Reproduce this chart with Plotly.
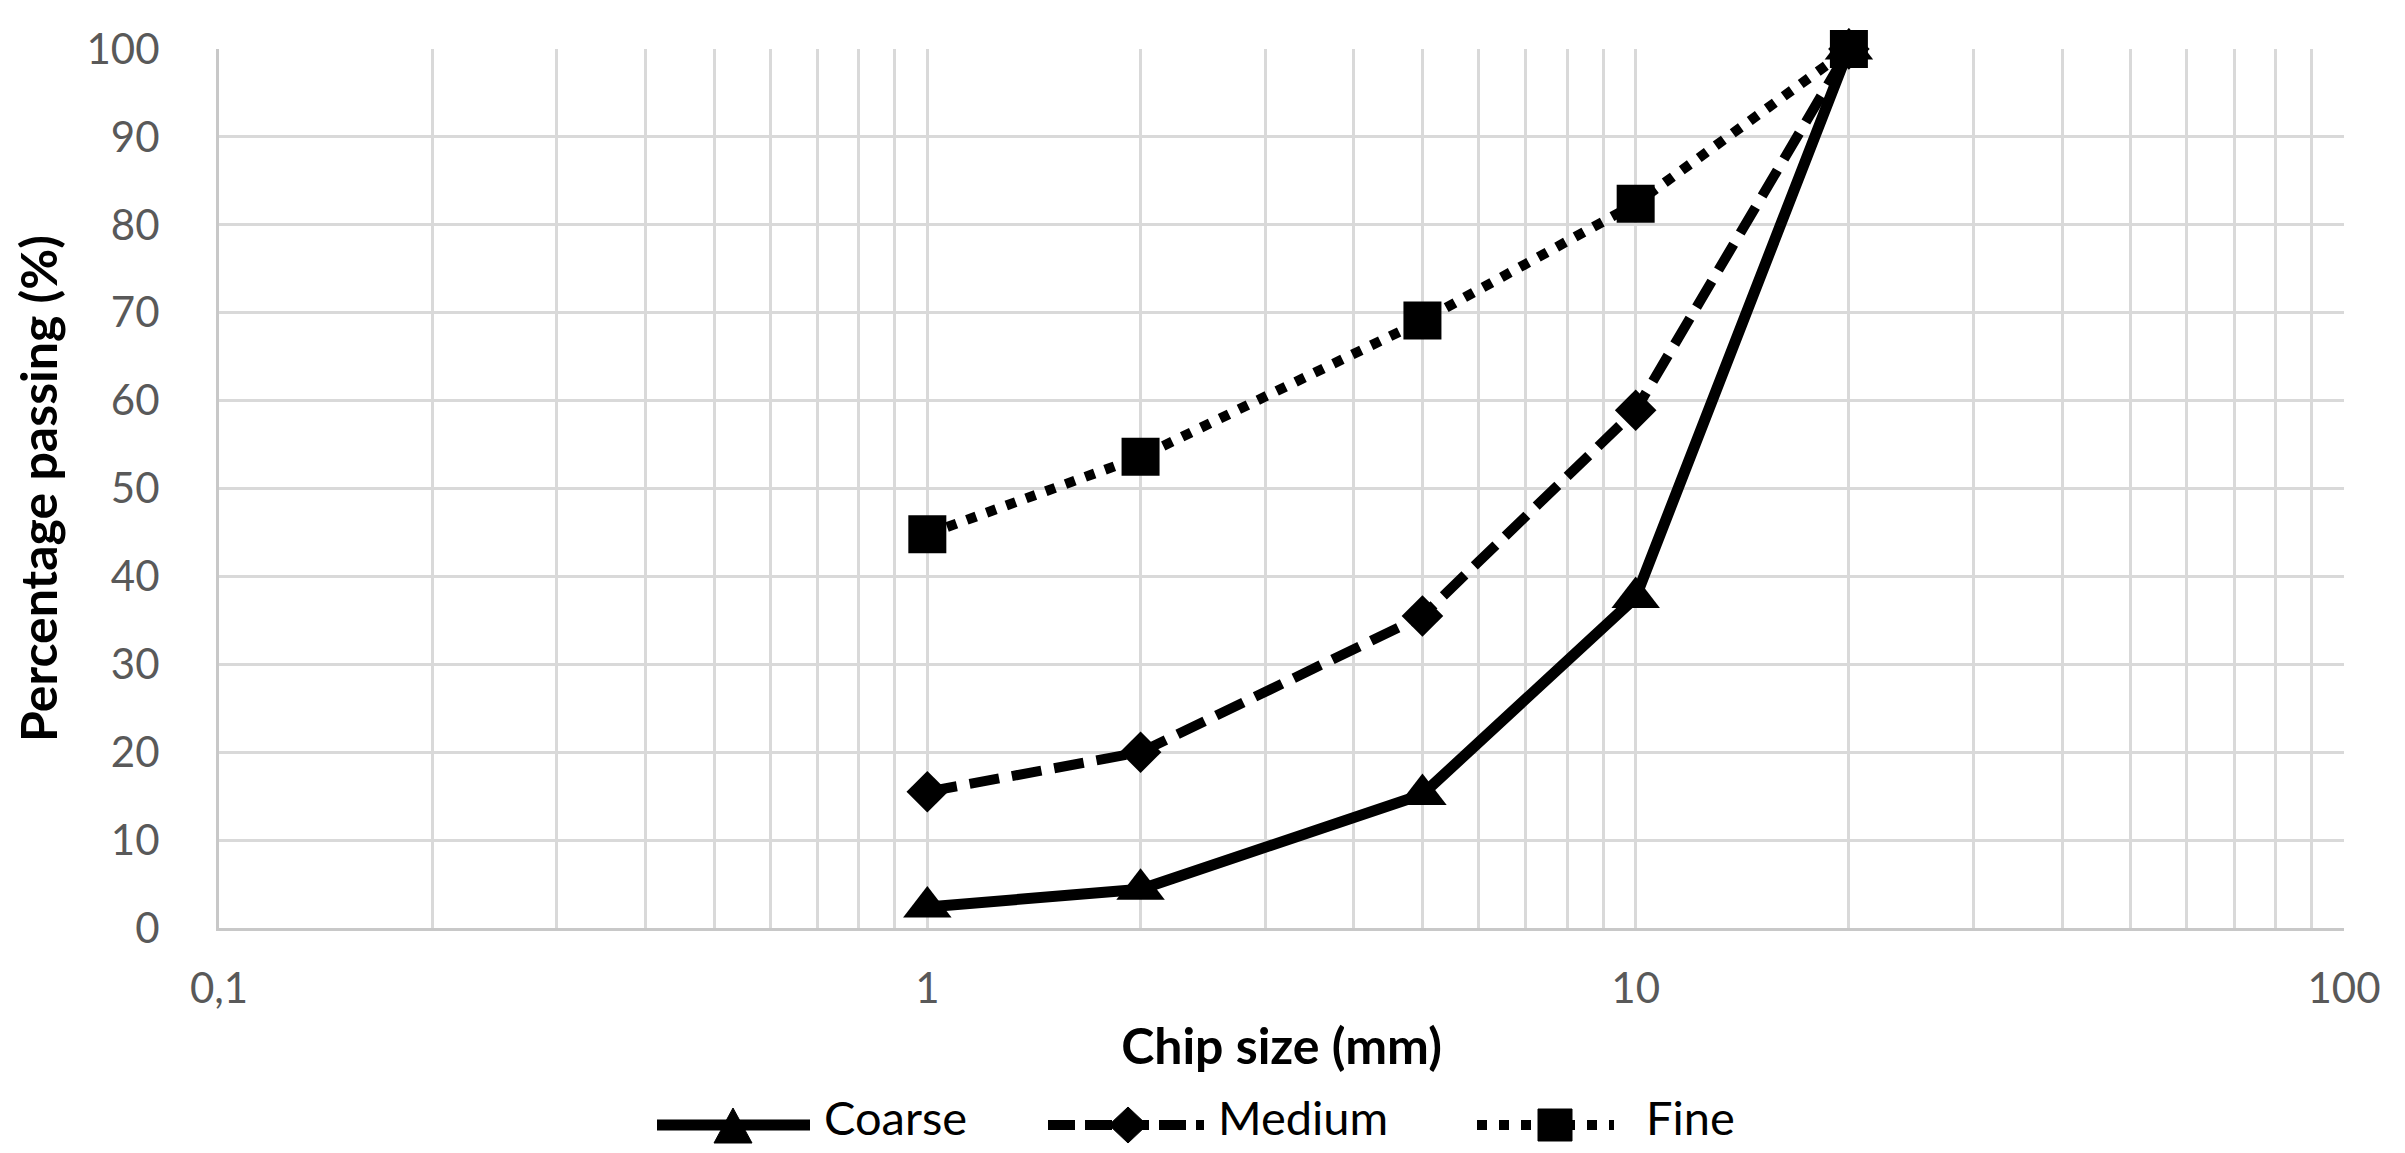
import plotly.graph_objects as go

# ---------------- data ----------------
chip_size_mm = [1, 2, 5, 10, 20]
coarse = [2.4, 4.4, 15.2, 37.6, 100]
medium = [15.5, 20.0, 35.5, 58.9, 100]
fine = [44.8, 53.6, 69.1, 82.4, 100]

series_names = ["Coarse", "Medium", "Fine"]
x_tick_vals = [0.1, 1, 10, 100]
x_tick_text = ["0,1", "1", "10", "100"]
y_tick_vals = [0, 10, 20, 30, 40, 50, 60, 70, 80, 90, 100]

# ---------------- styling ----------------
# The page body has an 8 px margin, so the figure is made 16 px smaller
# and every target screen position is shifted by 8 px.
OFF = 8
W, H = 2405 - 2 * OFF, 1153 - 2 * OFF
PL, PR, PT, PB = 219 - OFF, 2344 - OFF, 49 - OFF, 928 - OFF   # plot box in figure px
ML, MR, MT, MB = PL, W - PR, PT, H - PB
PW, PH = W - ML - MR, H - MT - MB
GRID = "#d9d9d9"
TICKC = "#595959"
FONT = "Lato"

styles = {
    "Coarse": dict(dash="solid", width=11, symbol="triangle-up", size=42),
    "Medium": dict(dash="30px,13px", width=10, symbol="diamond", size=32),
    "Fine": dict(dash="10px,11px", width=10, symbol="square", size=38),
}

fig = go.Figure()
for name, ys in zip(series_names, [coarse, medium, fine]):
    st = styles[name]
    fig.add_trace(go.Scatter(
        x=chip_size_mm, y=ys, name=name, mode="lines+markers",
        line=dict(color="black", width=st["width"], dash=st["dash"]),
        marker=dict(symbol=st["symbol"], size=st["size"], color="black"),
        cliponaxis=False, showlegend=False,
    ))

minor_vals = [k * 10 ** d for d in (-1, 0, 1) for k in range(2, 10)]

fig.update_layout(
    width=W, height=H,
    margin=dict(l=ML, r=MR, t=MT, b=MB, autoexpand=False),
    paper_bgcolor="white", plot_bgcolor="white",
    separators=", ",
    font=dict(family=FONT, color=TICKC),
    xaxis=dict(
        type="log", range=[-1, 2], automargin=False,
        tickmode="array", tickvals=x_tick_vals, ticktext=x_tick_text,
        showgrid=True, gridcolor=GRID, gridwidth=2.5,
        minor=dict(tickmode="array", tickvals=minor_vals, showgrid=True,
                   gridcolor=GRID, gridwidth=2.5, ticks=""),
        showline=True, linecolor="#c8c8c8", linewidth=3, mirror=False,
        ticks="", zeroline=False,
        tickfont=dict(family=FONT, size=42, color=TICKC),
        ticklabelstandoff=22,
        title=dict(text="<b>Chip size (mm)</b>", standoff=18,
                   font=dict(family=FONT, size=50, color="black")),
    ),
    yaxis=dict(
        range=[0, 100], tickmode="array", tickvals=y_tick_vals, automargin=False,
        showgrid=True, gridcolor=GRID, gridwidth=2.5,
        showline=True, linecolor="#c8c8c8", linewidth=3,
        ticks="", zeroline=False,
        tickfont=dict(family=FONT, size=42, color=TICKC),
        ticklabelstandoff=48,
        title=dict(text="<b>Percentage passing (%)</b>", standoff=22,
                   font=dict(family=FONT, size=50, color="black")),
    ),
)

# ---------------- custom legend (below the plot) ----------------
def px_x(px):          # screen px -> paper fraction
    return (px - OFF - ML) / PW

def px_y(py):
    return (PB - (py - OFF)) / PH

leg_y = 1125        # legend sample line (screen px)
leg_text_y = 1117   # legend text box centre (screen px)
legend_items = [
    # name, line start, line end, marker centre, text start  (screen px)
    ("Coarse", 657, 810, 733, 822),
    ("Medium", 1048, 1204, 1128, 1216),
    ("Fine", 1477, 1614, 1555, 1644),
]
leg_line = {
    "Coarse": dict(width=11, dash="solid"),
    "Medium": dict(width=10, dash="27px,10px"),
    "Fine": dict(width=10, dash="10px,12px"),
}
leg_marker_path = {
    "Coarse": "M -19,-18 L 19,-18 L 0,17 Z",
    "Medium": "M -19,0 L 0,18 L 19,0 L 0,-18 Z",
    "Fine": "M -17,-16 L 17,-16 L 17,16 L -17,16 Z",
}
for name, x0, x1, xm, xt in legend_items:
    fig.add_shape(type="line", xref="paper", yref="paper",
                  x0=px_x(x0), x1=px_x(x1), y0=px_y(leg_y), y1=px_y(leg_y),
                  line=dict(color="black", **leg_line[name]))
    fig.add_shape(type="path", xref="paper", yref="paper",
                  xsizemode="pixel", ysizemode="pixel",
                  xanchor=px_x(xm), yanchor=px_y(leg_y),
                  path=leg_marker_path[name],
                  fillcolor="black", line=dict(color="black", width=1))
    fig.add_annotation(xref="paper", yref="paper", x=px_x(xt), y=px_y(leg_text_y),
                       xanchor="left", yanchor="middle", showarrow=False,
                       text=name, font=dict(family=FONT, size=47, color="black"))

fig.write_html("out.html")
